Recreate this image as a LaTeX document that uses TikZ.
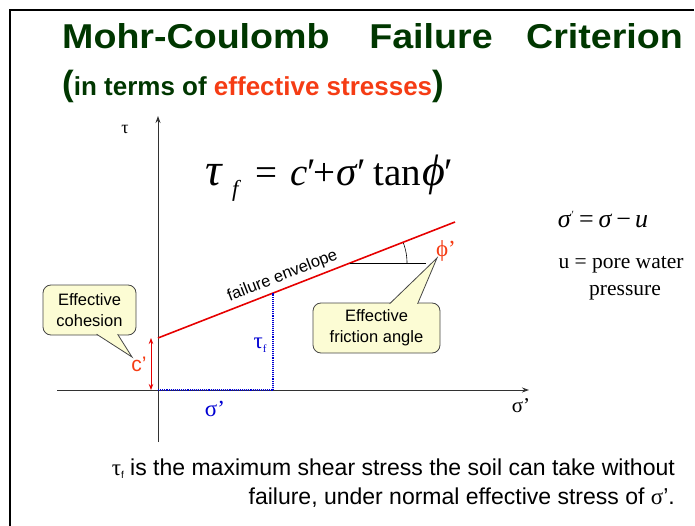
\documentclass[tikz,border=0pt]{standalone}
\usepackage{fontspec}
\setmainfont{Liberation Serif}
\setsansfont{Liberation Sans}
\usetikzlibrary{arrows.meta,calc}
\definecolor{titlegreen}{RGB}{0,55,0}
\definecolor{orng}{RGB}{245,60,20}
\definecolor{redline}{RGB}{230,0,0}
\definecolor{blu}{RGB}{0,0,210}
\definecolor{callfill}{RGB}{252,252,212}
\definecolor{calldraw}{RGB}{70,70,70}
\definecolor{axisgray}{RGB}{50,50,50}
\newcommand{\ttlword}[1]{\scalebox{1.09}[1]{#1}}
\newcommand{\fpart}[2]{\makebox[#1][l]{#2}}
\tikzset{
  titletext/.style={font=\sffamily\bfseries\fontsize{34.5}{40}\selectfont, text=titlegreen, inner sep=0pt},
  axisline/.style={draw=axisgray, line width=0.9pt},
  callbox/.style={draw=calldraw, fill=callfill, rounded corners=8pt, line width=0.8pt,
     font=\sffamily\fontsize{16.5}{21}\selectfont, align=center, inner sep=0pt},
  bluelbl/.style={text=blu, inner sep=0pt},
  dotline/.style={blu, densely dotted, line width=1.1pt},
}
\begin{document}
\begin{tikzpicture}[x=1pt,y=-1pt]
\useasboundingbox (0,0) rectangle (695,526);
% frame
\draw[line width=2pt] (10,527) -- (10,10) -- (694,10);
% title
\node[titletext, anchor=base west] (t1) at (62,49) {\ttlword{Mohr-Coulomb}};
\node[titletext, anchor=base] (t2) at (431,49) {\ttlword{Failure}};
\node[titletext, anchor=base east] (t3) at (683,49) {\ttlword{Criterion}};
% subtitle
\node[anchor=base west, inner sep=0pt, font=\sffamily\bfseries, text=titlegreen] (sub) at (62,96)
  {{\fontsize{35}{35}\selectfont(}\fontsize{26}{30}\selectfont in terms of \textcolor{orng}{effective stresses}{\fontsize{35}{35}\selectfont)}};
% axes
\coordinate (O) at (158,390);
\coordinate (ybot) at (158,442);
\coordinate (ytop) at (158,116);
\coordinate (xleft) at (57,390);
\coordinate (xright) at (529,390);
\draw[axisline, -{Stealth[length=7pt,width=5pt]}] (ybot) -- (ytop);
\draw[axisline, -{Stealth[length=7pt,width=5pt]}] (xleft) -- (xright);
\node[inner sep=0pt, font=\fontsize{18}{18}\selectfont] (taulbl) at (125,129) {τ};
\node[inner sep=0pt, font=\fontsize{21}{21}\selectfont] (siglbl) at (521,406) {σ’};
% failure envelope
\coordinate (A) at (158,338);
\coordinate (B) at (455,222);
\draw[redline, line width=1.6pt] (A) -- (B)
  node[pos=0.435, sloped, above, inner sep=4pt, font=\sffamily\fontsize{16.5}{16.5}\selectfont, text=black] (fe) {failure envelope};
% angle
\coordinate (P) at (350,263);
\coordinate (Q) at (426,263);
\draw[black, line width=0.6pt] (P) -- (Q);
\draw[black, line width=0.6pt] plot[domain=0:20.5, samples=12] ({350+57*cos(\x)},{263-57*sin(\x)});
\node[text=orng, inner sep=0pt, font=\fontsize{23}{23}\selectfont] (phi) at (446,251) {ϕ’};
% tau_f and sigma'
\coordinate (F) at (273,293);
\coordinate (Fb) at (273,390);
\draw[dotline] (O) -- (Fb);
\draw[dotline] (Fb) -- (F);
\node[bluelbl, font=\fontsize{23}{23}\selectfont] (tauf) at (260,345) {τ\raisebox{-4pt}{\fontsize{11}{11}\selectfont f}};
\node[bluelbl, font=\fontsize{23}{23}\selectfont] (sigb) at (215,409) {σ’};
% c'
\coordinate (c1) at (151,338);
\coordinate (c2) at (151,390);
\draw[redline, line width=0.9pt, {Stealth[length=6pt,width=4.5pt]}-{Stealth[length=6pt,width=4.5pt]}] (c1) -- (c2);
\node[text=orng, inner sep=0pt, font=\sffamily\fontsize{21}{21}\selectfont] (clbl) at (139,364) {c’};
% left callout
\node[callbox, minimum width=93pt, minimum height=50pt] (cb) at (89.5,310) {Effective\\cohesion};
\coordinate (ctip) at (132,357);
\coordinate (cb1) at ($(cb.south west)+(54,-1.2)$);
\coordinate (cb2) at ($(cb.south west)+(75,-1.2)$);
\fill[callfill] (cb1) -- (ctip) -- (cb2) -- cycle;
\draw[calldraw, line width=0.8pt, line join=miter] (cb1) -- (ctip) -- (cb2);
% right callout
\node[callbox, minimum width=127pt, minimum height=50pt] (fb) at (376.5,328) {Effective\\friction angle};
\coordinate (ftip) at (437,258);
\coordinate (fb1) at ($(fb.north west)+(77,1.2)$);
\coordinate (fb2) at ($(fb.north west)+(105,1.2)$);
\fill[callfill] (fb1) -- (ftip) -- (fb2) -- cycle;
\draw[calldraw, line width=0.8pt, line join=miter] (fb1) -- (ftip) -- (fb2);
% main formula
\node[inner sep=0pt, anchor=base west, font=\fontsize{39}{39}\selectfont] (formula) at (205,186)
  {\fpart{27pt}{\fontsize{46}{46}\selectfont\textit{τ}}%
   \fpart{23pt}{\raisebox{-11pt}{\fontsize{23}{23}\selectfont\textit{f}}}%
   \fpart{35pt}{=}%
   \fpart{23pt}{\textit{c}′}%
   \fpart{23pt}{+}%
   \fpart{37pt}{{\fontsize{41}{41}\selectfont\textit{σ}}′}%
   \fpart{49pt}{tan}%
   {\fontsize{44}{44}\selectfont\textit{ϕ}}′};
% effective stress
\node[inner sep=0pt, anchor=base, font=\fontsize{26}{26}\selectfont] (eff) at (603,228)
  {\textit{σ}\raisebox{9pt}{\fontsize{11}{11}\selectfont ′}\kern5pt=\kern5pt\textit{σ}\kern4pt−\kern4pt\textit{u}};
\node[inner sep=0pt, align=center, anchor=north, font=\fontsize{21.5}{27}\selectfont] (pw) at (621,256)
  {u = pore water\\\hspace*{8pt}pressure};
% bottom text
\node[inner sep=0pt, align=right, anchor=north east, font=\sffamily\fontsize{23}{29}\selectfont] (bt) at (675,459)
  {{\rmfamily τ}\raisebox{-3pt}{\fontsize{10}{10}\selectfont f} is the maximum shear stress the soil can take without\\
   failure, under normal effective stress of {\rmfamily σ}’.};
\end{tikzpicture}
\end{document}
